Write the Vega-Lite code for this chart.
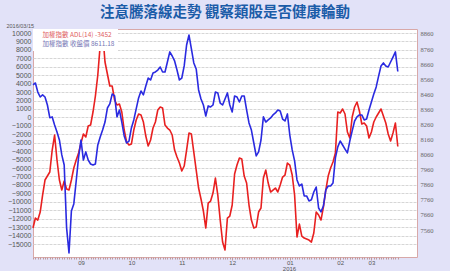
{
  "$schema": "https://vega.github.io/schema/vega-lite/v6.json",
  "width": 384,
  "height": 228,
  "autosize": {"type": "none"},
  "padding": {"left": 33, "top": 29, "right": 33, "bottom": 14},
  "background": "#e2e2f8",
  "title": {
    "text": "注意騰落線走勢 觀察類股是否健康輪動",
    "font": "Noto Sans CJK TC",
    "fontSize": 14.5,
    "fontWeight": "bold",
    "color": "#1b5ca8",
    "anchor": "middle",
    "offset": 3
  },
  "config": {
    "view": {"stroke": "#d8a8a8", "strokeWidth": 1, "fill": "white"}
  },
  "datasets": {
    "adl": [
      {"d":0,"adl":-13108},{"d":1,"adl":-11923},{"d":2,"adl":-12160},{"d":3,"adl":-11212},{"d":4,"adl":-9197},
      {"d":5,"adl":-7420},{"d":6,"adl":-6946},{"d":7,"adl":-6472},{"d":8,"adl":-3865},{"d":9,"adl":-2087},
      {"d":10,"adl":-5050},{"d":11,"adl":-7420},{"d":12,"adl":-8605},{"d":13,"adl":-7538},{"d":14,"adl":-8486},
      {"d":15,"adl":-8605},{"d":16,"adl":-7420},{"d":17,"adl":-5998},{"d":18,"adl":-5050},{"d":19,"adl":-4220},
      {"d":20,"adl":-3035},{"d":21,"adl":-1969},{"d":22,"adl":-2324},{"d":23,"adl":-1020},{"d":24,"adl":-902},
      {"d":25,"adl":639},{"d":26,"adl":2535},{"d":27,"adl":5023},{"d":28,"adl":8578},{"d":29,"adl":10200},
      {"d":30,"adl":6564},{"d":31,"adl":5142},{"d":32,"adl":3719},{"d":33,"adl":3719},{"d":34,"adl":2061},
      {"d":35,"adl":1468},{"d":36,"adl":1587},{"d":37,"adl":639},{"d":38,"adl":-1495},{"d":39,"adl":-2917},
      {"d":40,"adl":-3272},{"d":41,"adl":-3154},{"d":42,"adl":-1495},{"d":43,"adl":-310},{"d":44,"adl":402},
      {"d":45,"adl":283},{"d":46,"adl":-547},{"d":47,"adl":-2206},{"d":48,"adl":-3391},{"d":49,"adl":-2680},
      {"d":50,"adl":-1258},{"d":51,"adl":-547},{"d":52,"adl":876},{"d":53,"adl":1231},{"d":54,"adl":1113},
      {"d":55,"adl":-902},{"d":56,"adl":-1258},{"d":57,"adl":-1495},{"d":58,"adl":-2087},{"d":59,"adl":-3865},
      {"d":60,"adl":-4694},{"d":61,"adl":-5405},{"d":62,"adl":-6353},{"d":63,"adl":-5760},{"d":64,"adl":-3865},
      {"d":65,"adl":-1850},{"d":66,"adl":-1969},{"d":67,"adl":-4102},{"d":68,"adl":-6235},{"d":69,"adl":-8368},
      {"d":70,"adl":-9671},{"d":71,"adl":-11093},{"d":72,"adl":-13108},{"d":73,"adl":-10145},{"d":74,"adl":-9908},
      {"d":75,"adl":-8960},{"d":76,"adl":-7183},{"d":77,"adl":-9197},{"d":78,"adl":-12160},{"d":79,"adl":-14767},
      {"d":80,"adl":-15715},{"d":81,"adl":-11923},{"d":82,"adl":-11686},{"d":83,"adl":-10382},{"d":84,"adl":-6709},
      {"d":85,"adl":-5642},{"d":86,"adl":-4813},{"d":87,"adl":-4931},{"d":88,"adl":-6946},{"d":89,"adl":-7775},
      {"d":90,"adl":-10382},{"d":91,"adl":-12160},{"d":92,"adl":-13108},{"d":93,"adl":-12989},{"d":94,"adl":-11212},
      {"d":95,"adl":-10738},{"d":96,"adl":-7183},{"d":97,"adl":-6235},{"d":98,"adl":-7775},{"d":99,"adl":-8842},
      {"d":100,"adl":-8605},{"d":101,"adl":-8368},{"d":102,"adl":-8842},{"d":103,"adl":-8012},{"d":104,"adl":-7064},
      {"d":105,"adl":-6828},{"d":106,"adl":-5405},{"d":107,"adl":-5642},{"d":108,"adl":-6828},{"d":109,"adl":-9197},
      {"d":110,"adl":-14174},{"d":111,"adl":-12634},{"d":112,"adl":-14056},{"d":113,"adl":-14293},{"d":114,"adl":-14411},
      {"d":115,"adl":-14530},{"d":116,"adl":-14767},{"d":117,"adl":-13700},{"d":118,"adl":-11212},{"d":119,"adl":-11567},
      {"d":120,"adl":-12160},{"d":121,"adl":-10619},{"d":122,"adl":-8605},{"d":123,"adl":-6946},{"d":124,"adl":-5998},
      {"d":125,"adl":-5287},{"d":126,"adl":-4220},{"d":127,"adl":639},{"d":128,"adl":520},{"d":129,"adl":994},
      {"d":130,"adl":402},{"d":131,"adl":-1732},{"d":132,"adl":-2443},{"d":133,"adl":46},{"d":134,"adl":1231},
      {"d":135,"adl":1824},{"d":136,"adl":757},{"d":137,"adl":-784},{"d":138,"adl":-665},{"d":139,"adl":-1020},
      {"d":140,"adl":-2443},{"d":141,"adl":-1732},{"d":142,"adl":-547},{"d":143,"adl":46},{"d":144,"adl":520},
      {"d":145,"adl":994},{"d":146,"adl":165},{"d":147,"adl":-665},{"d":148,"adl":-1969},{"d":149,"adl":-2798},
      {"d":150,"adl":-1850},{"d":151,"adl":-665},{"d":152,"adl":-3452}
    ],
    "price": [
      {"d":0,"p":8522},{"d":1,"p":8535},{"d":2,"p":8475},{"d":3,"p":8442},{"d":4,"p":8456},
      {"d":5,"p":8442},{"d":6,"p":8389},{"d":7,"p":8305},{"d":8,"p":8310},{"d":9,"p":8257},
      {"d":10,"p":8210},{"d":11,"p":8157},{"d":12,"p":8058},{"d":13,"p":7991},{"d":14,"p":7574},
      {"d":15,"p":7408},{"d":16,"p":7686},{"d":17,"p":7733},{"d":18,"p":7885},{"d":19,"p":8044},
      {"d":20,"p":8157},{"d":21,"p":8024},{"d":22,"p":8078},{"d":23,"p":8024},{"d":24,"p":7998},
      {"d":25,"p":7991},{"d":26,"p":7998},{"d":27,"p":8124},{"d":28,"p":8177},{"d":29,"p":8223},
      {"d":30,"p":8276},{"d":31,"p":8369},{"d":32,"p":8396},{"d":33,"p":8462},{"d":34,"p":8449},
      {"d":35,"p":8310},{"d":36,"p":8356},{"d":37,"p":8276},{"d":38,"p":8184},{"d":39,"p":8137},
      {"d":40,"p":8150},{"d":41,"p":8237},{"d":42,"p":8290},{"d":43,"p":8363},{"d":44,"p":8436},
      {"d":45,"p":8482},{"d":46,"p":8456},{"d":47,"p":8515},{"d":48,"p":8568},{"d":49,"p":8555},
      {"d":50,"p":8601},{"d":51,"p":8608},{"d":52,"p":8621},{"d":53,"p":8641},{"d":54,"p":8608},
      {"d":55,"p":8608},{"d":56,"p":8674},{"d":57,"p":8741},{"d":58,"p":8714},{"d":59,"p":8681},
      {"d":60,"p":8621},{"d":61,"p":8555},{"d":62,"p":8568},{"d":63,"p":8648},{"d":64,"p":8787},
      {"d":65,"p":8853},{"d":66,"p":8761},{"d":67,"p":8668},{"d":68,"p":8628},{"d":69,"p":8489},
      {"d":70,"p":8429},{"d":71,"p":8389},{"d":72,"p":8316},{"d":73,"p":8383},{"d":74,"p":8376},
      {"d":75,"p":8389},{"d":76,"p":8475},{"d":77,"p":8469},{"d":78,"p":8402},{"d":79,"p":8389},
      {"d":80,"p":8429},{"d":81,"p":8469},{"d":82,"p":8389},{"d":83,"p":8343},{"d":84,"p":8449},
      {"d":85,"p":8442},{"d":86,"p":8409},{"d":87,"p":8449},{"d":88,"p":8449},{"d":89,"p":8356},
      {"d":90,"p":8270},{"d":91,"p":8223},{"d":92,"p":8137},{"d":93,"p":8051},{"d":94,"p":8078},
      {"d":95,"p":8157},{"d":96,"p":8310},{"d":97,"p":8276},{"d":98,"p":8290},{"d":99,"p":8303},
      {"d":100,"p":8323},{"d":101,"p":8336},{"d":102,"p":8356},{"d":103,"p":8349},{"d":104,"p":8296},
      {"d":105,"p":8283},{"d":106,"p":8330},{"d":107,"p":8190},{"d":108,"p":8091},{"d":109,"p":8018},
      {"d":110,"p":7892},{"d":111,"p":7852},{"d":112,"p":7865},{"d":113,"p":7786},{"d":114,"p":7786},
      {"d":115,"p":7753},{"d":116,"p":7760},{"d":117,"p":7812},{"d":118,"p":7845},{"d":119,"p":7706},
      {"d":120,"p":7680},{"d":121,"p":7719},{"d":122,"p":7826},{"d":123,"p":7852},{"d":124,"p":7852},
      {"d":125,"p":7872},{"d":126,"p":8038},{"d":127,"p":8111},{"d":128,"p":8150},{"d":129,"p":8124},
      {"d":130,"p":8097},{"d":131,"p":8071},{"d":132,"p":8150},{"d":133,"p":8217},{"d":134,"p":8283},
      {"d":135,"p":8310},{"d":136,"p":8323},{"d":137,"p":8323},{"d":138,"p":8290},{"d":139,"p":8296},
      {"d":140,"p":8356},{"d":141,"p":8409},{"d":142,"p":8462},{"d":143,"p":8509},{"d":144,"p":8581},
      {"d":145,"p":8648},{"d":146,"p":8668},{"d":147,"p":8648},{"d":148,"p":8641},{"d":149,"p":8674},
      {"d":150,"p":8707},{"d":151,"p":8741},{"d":152,"p":8611.18}
    ]
  },
  "layer": [
    {
      "data": {"name": "adl"},
      "mark": {"type": "line", "strokeWidth": 1.6, "strokeJoin": "round"},
      "encoding": {
        "x": {
          "field": "d", "type": "quantitative",
          "scale": {"domain": [0, 160], "nice": false, "zero": false},
          "axis": {
            "orient": "bottom",
            "values": [20, 41, 62, 83, 107, 128, 141],
            "labelExpr": "datum.value == 20 ? '09' : datum.value == 41 ? '10' : datum.value == 62 ? '11' : datum.value == 83 ? '12' : datum.value == 107 ? '01' : datum.value == 128 ? '02' : '03'",
            "labelOverlap": false,
            "labelFlush": false,
            "labelFont": "Liberation Sans",
            "labelFontSize": 6,
            "labelColor": "#555555",
            "labelPadding": -1,
            "tickSize": 3,
            "tickColor": "#c09a9a",
            "domain": false,
            "grid": false,
            "title": "2016",
            "titleX": 256,
            "titleY": 14,
            "titleBaseline": "bottom",
            "titleAlign": "center",
            "titleFont": "Liberation Sans",
            "titleFontSize": 6,
            "titleFontWeight": "normal",
            "titleColor": "#555555"
          }
        },
        "y": {
          "field": "adl", "type": "quantitative",
          "scale": {"domain": [-16540, 10474], "nice": false, "zero": false},
          "axis": {
            "orient": "left",
            "values": [-15000,-14000,-13000,-12000,-11000,-10000,-9000,-8000,-7000,-6000,-5000,-4000,-3000,-2000,-1000,0,1000,2000,3000,4000,5000,6000,7000,8000,9000,10000],
            "format": "d",
            "labelFont": "Liberation Sans",
            "labelFontSize": 7,
            "labelColor": "#555555",
            "labelPadding": 2,
            "ticks": false,
            "domain": false,
            "grid": true,
            "gridColor": "#d6d6d6",
            "gridDash": [3, 1],
            "gridWidth": 1,
            "title": "2016/03/15",
            "titleAngle": 0,
            "titleX": -27,
            "titleY": -4,
            "titleAlign": "left",
            "titleBaseline": "middle",
            "titleFont": "Liberation Sans",
            "titleFontSize": 5.5,
            "titleFontWeight": "normal",
            "titleColor": "#555555"
          }
        },
        "color": {
          "datum": "加權指數 ADL(14) -3452",
          "type": "nominal",
          "scale": {
            "domain": ["加權指數 ADL(14) -3452", "加權指數 收盤價 8611.18"],
            "range": ["#e82020", "#2a2ae0"]
          },
          "legend": {
            "orient": "top-left",
            "title": null,
            "offset": 0,
            "padding": 3,
            "fillColor": "white",
            "symbolSize": 0,
            "symbolStrokeWidth": 0,
            "labelOffset": 0,
            "labelFont": "Noto Sans CJK TC",
            "labelFontSize": 6.5,
            "rowPadding": 2,
            "encode": {
              "labels": {
                "update": {
                  "fill": {"signal": "indexof(datum.label, 'ADL') >= 0 ? '#e06060' : '#7676b4'"}
                }
              }
            }
          }
        }
      }
    },
    {
      "data": {"name": "price"},
      "mark": {"type": "line", "strokeWidth": 1.6, "strokeJoin": "round"},
      "encoding": {
        "x": {
          "field": "d", "type": "quantitative",
          "axis": {
            "orient": "bottom",
            "values": [0,1,2,3,4,5,6,7,8,9,10,11,12,13,14,15,16,17,18,19,20,21,22,23,24,25,26,27,28,29,30,31,32,33,34,35,36,37,38,39,40,41,42,43,44,45,46,47,48,49,50,51,52,53,54,55,56,57,58,59,60,61,62,63,64,65,66,67,68,69,70,71,72,73,74,75,76,77,78,79,80,81,82,83,84,85,86,87,88,89,90,91,92,93,94,95,96,97,98,99,100,101,102,103,104,105,106,107,108,109,110,111,112,113,114,115,116,117,118,119,120,121,122,123,124,125,126,127,128,129,130,131,132,133,134,135,136,137,138,139,140,141,142,143,144,145,146,147,148,149,150,151,152],
            "labels": false,
            "tickSize": 2,
            "tickColor": "#c09a9a",
            "domain": false,
            "grid": false,
            "title": null
          }
        },
        "y": {
          "field": "p", "type": "quantitative",
          "scale": {"domain": [7381, 8893], "nice": false, "zero": false},
          "axis": {
            "orient": "right",
            "values": [7560,7660,7760,7860,7960,8060,8160,8260,8360,8460,8560,8660,8760,8860],
            "format": "d",
            "labelFont": "Liberation Serif",
            "labelFontSize": 6.5,
            "labelColor": "#666666",
            "labelPadding": 3,
            "ticks": false,
            "domain": false,
            "grid": false,
            "title": null
          }
        },
        "color": {"datum": "加權指數 收盤價 8611.18", "type": "nominal"}
      }
    }
  ],
  "resolve": {"scale": {"y": "independent"}, "axis": {"x": "independent"}}
}
